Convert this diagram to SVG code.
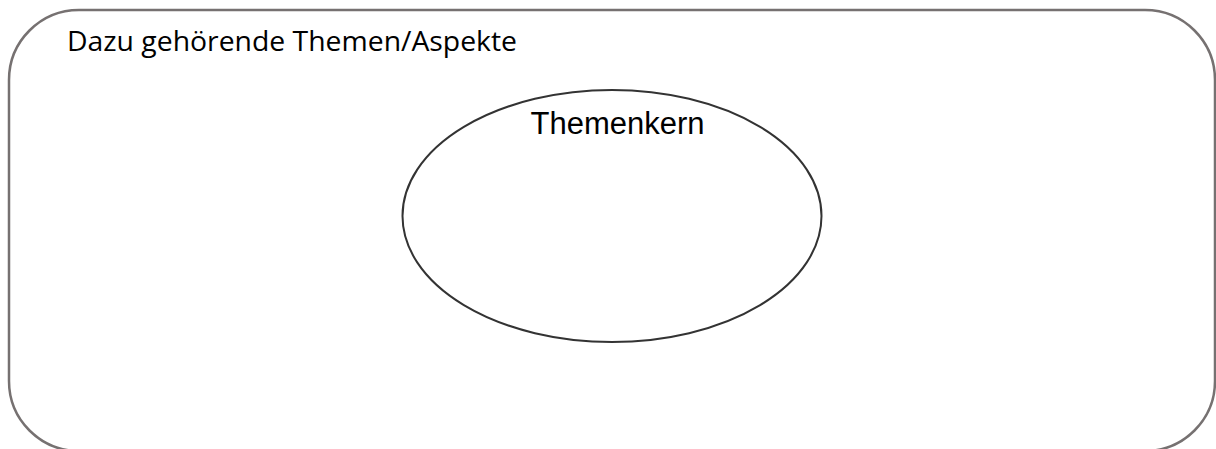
<svg xmlns="http://www.w3.org/2000/svg" width="1216" height="449" viewBox="0 0 1216 449">
<style>
.frame{fill:#ffffff;stroke:#767171;stroke-width:2.5}
.core{fill:#ffffff;stroke:#333333;stroke-width:2}
.t1{font-family:"Open Sans","Noto Sans","Liberation Sans",sans-serif;font-size:27px;fill:#000000}
.t2{font-family:"Liberation Sans",Arial,sans-serif;font-size:31px;fill:#000000}
</style>
<rect width="1216" height="449" fill="#ffffff"/>
<g id="aspekte">
<rect class="frame" x="9" y="10" width="1206" height="441" rx="70" ry="70"/>
<text class="t1" x="67" y="51" textLength="450" lengthAdjust="spacingAndGlyphs">Dazu gehörende Themen/Aspekte</text>
</g>
<g id="themenkern">
<ellipse class="core" cx="612" cy="216" rx="209.5" ry="126"/>
<text class="t2" x="617.5" y="134" text-anchor="middle">Themenkern</text>
</g>
<g id="connectors"/>
</svg>
